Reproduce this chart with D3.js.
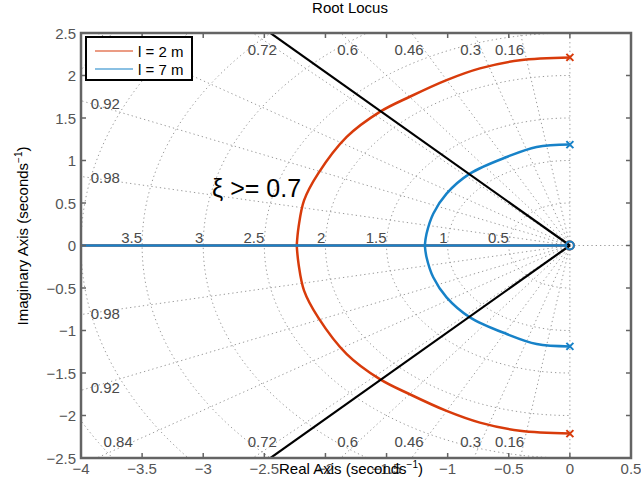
<!DOCTYPE html>
<html>
<head>
<meta charset="utf-8">
<script src="https://cdn.jsdelivr.net/npm/d3@7"></script>
<style>
  html, body { margin: 0; padding: 0; background: #fff; }
  svg { display: block; font-family: "Liberation Sans", Arial, Helvetica, sans-serif; }
</style>
</head>
<body>
<svg id="chart" width="641" height="486"></svg>
<script>
// Root locus branches (upper half; lower half is the complex conjugate)
const redRe  = [0, -0.409, -0.736, -1.009, -1.31, -1.555, -1.826, -2.06, -2.175, -2.22, -2.235];
const redIm  = [2.213, 2.18, 2.084, 1.946, 1.75, 1.572, 1.277, 0.845, 0.53, 0.216, 0];
const blueRe = [0, -0.272, -0.517, -0.818, -1.009, -1.118, -1.173, -1.187];
const blueIm = [1.187, 1.159, 1.041, 0.845, 0.61, 0.374, 0.138, 0];

const seriesNames = ["l = 2 m", "l = 7 m"];
const seriesColors = ["#D83B0B", "#1782C8"];

// s-plane grid
const zetas = [0.16, 0.3, 0.46, 0.6, 0.72, 0.84, 0.92, 0.98];
const wns = [0.5, 1, 1.5, 2, 2.5, 3, 3.5, 4, 4.5, 5];
const wnLabels = [0.5, 1, 1.5, 2, 2.5, 3, 3.5];
const zetaSpec = 0.7;

const xTicks = [-4, -3.5, -3, -2.5, -2, -1.5, -1, -0.5, 0, 0.5];
const yTicks = [-2.5, -2, -1.5, -1, -0.5, 0, 0.5, 1, 1.5, 2, 2.5];

const W = 641, H = 486;
const m = { left: 81, right: 10, top: 33, bottom: 28 };
const svg = d3.select("#chart");

const x = d3.scaleLinear().domain([-4, 0.5]).range([m.left, W - m.right]);
const y = d3.scaleLinear().domain([-2.5, 2.5]).range([H - m.bottom, m.top]);

svg.append("defs").append("clipPath").attr("id", "plotclip")
  .append("rect")
  .attr("x", x(-4)).attr("y", y(2.5))
  .attr("width", x(0.5) - x(-4)).attr("height", y(-2.5) - y(2.5));

const plot = svg.append("g").attr("clip-path", "url(#plotclip)");
const line = d3.line().x(d => x(d[0])).y(d => y(d[1]));
const smooth = d3.line().x(d => x(d[0])).y(d => y(d[1])).curve(d3.curveCatmullRom.alpha(0.5));

const fmt = v => (v < 0 ? "\u2212" : "") + Math.abs(v);

// --- grid: damping rays ---
const grid = plot.append("g")
  .attr("fill", "none").attr("stroke", "#9a9a9a")
  .attr("stroke-width", 1).attr("stroke-dasharray", "1.3,3");
const R = 20;
zetas.forEach(z => {
  const s = Math.sqrt(1 - z * z);
  grid.append("path").attr("d", line([[0, 0], [-z * R, s * R]]));
  grid.append("path").attr("d", line([[0, 0], [-z * R, -s * R]]));
});
grid.append("path").attr("d", line([[0, 0], [0, R]]));
grid.append("path").attr("d", line([[0, 0], [0, -R]]));
grid.append("path").attr("d", line([[0, 0], [0.5, 0]]));

// --- grid: natural frequency semicircles ---
wns.forEach(w => {
  const pts = d3.range(0, 181).map(i => {
    const a = Math.PI / 2 + (i / 180) * Math.PI;
    return [w * Math.cos(a), w * Math.sin(a)];
  });
  grid.append("path").attr("d", line(pts));
});

// grid labels
const gl = plot.append("g").attr("font-size", 15).attr("fill", "#4a4a4a");
wnLabels.forEach(w => {
  gl.append("text").attr("x", x(-w)).attr("y", y(0) - 3)
    .attr("text-anchor", "end").text(w);
});
zetas.forEach(z => {
  const s = Math.sqrt(1 - z * z);
  const t = s / z;
  if (2.5 / t <= 4 * 0.98) {
    const yy = 2.31, xx = -yy / t;
    [1, -1].forEach(sg => {
      gl.append("text").attr("x", x(xx)).attr("y", y(sg * yy))
        .attr("text-anchor", "end").attr("dominant-baseline", "central").text(z);
    });
  } else {
    const xx = -3.92, yy = -xx * t;
    [1, -1].forEach(sg => {
      gl.append("text").attr("x", x(xx)).attr("y", y(sg * yy))
        .attr("text-anchor", "start").attr("dominant-baseline", "central").text(z);
    });
  }
});

// --- root locus branches ---
function drawLocus(re, im, color) {
  const upper = re.map((r, i) => [r, im[i]]);
  const lower = re.map((r, i) => [r, -im[i]]);
  const brk = re[re.length - 1];
  const g = plot.append("g").attr("fill", "none").attr("stroke", color)
    .attr("stroke-width", 2.5).attr("stroke-linejoin", "round");
  g.append("path").attr("d", smooth(upper));
  g.append("path").attr("d", smooth(lower));
  g.append("path").attr("d", line([[brk, 0], [0, 0]]));
  g.append("path").attr("d", line([[brk, 0], [-10, 0]]));
}
drawLocus(redRe, redIm, seriesColors[0]);
drawLocus(blueRe, blueIm, seriesColors[1]);

// damping-ratio requirement lines
const zs = Math.sqrt(1 - zetaSpec * zetaSpec);
const bl = plot.append("g").attr("stroke", "#000").attr("stroke-width", 2.2).attr("fill", "none");
bl.append("path").attr("d", line([[0, 0], [-zetaSpec * R, zs * R]]));
bl.append("path").attr("d", line([[0, 0], [-zetaSpec * R, -zs * R]]));

// pole (x) and zero (o) markers
function markers(re, im, color) {
  const g = plot.append("g").attr("stroke", color).attr("stroke-width", 2).attr("fill", "none");
  [im[0], -im[0]].forEach(v => {
    const cx = x(re[0]), cy = y(v), r = 3.5;
    g.append("path").attr("d", `M${cx - r},${cy - r}L${cx + r},${cy + r}M${cx - r},${cy + r}L${cx + r},${cy - r}`);
  });
  g.append("circle").attr("cx", x(0)).attr("cy", y(0)).attr("r", 4);
}
markers(redRe, redIm, seriesColors[0]);
markers(blueRe, blueIm, seriesColors[1]);

// annotation
svg.append("text").attr("x", 212).attr("y", 197).attr("font-size", 25).attr("fill", "#000")
  .text("\u03BE >= " + zetaSpec);

// --- axes box and ticks ---
const ax = svg.append("g").attr("stroke", "#646464").attr("stroke-width", 1.5);
xTicks.forEach(t => {
  ax.append("line").attr("x1", x(t)).attr("x2", x(t)).attr("y1", y(-2.5)).attr("y2", y(-2.5) - 5);
  ax.append("line").attr("x1", x(t)).attr("x2", x(t)).attr("y1", y(2.5)).attr("y2", y(2.5) + 5);
});
yTicks.forEach(t => {
  ax.append("line").attr("x1", x(-4)).attr("x2", x(-4) + 5).attr("y1", y(t)).attr("y2", y(t));
  ax.append("line").attr("x1", x(0.5)).attr("x2", x(0.5) - 5).attr("y1", y(t)).attr("y2", y(t));
});
svg.append("rect")
  .attr("x", x(-4)).attr("y", y(2.5))
  .attr("width", x(0.5) - x(-4)).attr("height", y(-2.5) - y(2.5))
  .attr("fill", "none").attr("stroke", "#646464").attr("stroke-width", 2.5);

const tl = svg.append("g").attr("font-size", 15).attr("fill", "#555");
xTicks.forEach(t => {
  tl.append("text").attr("x", x(t)).attr("y", 474).attr("text-anchor", "middle").text(fmt(t));
});
yTicks.forEach(t => {
  tl.append("text").attr("x", 76).attr("y", y(t)).attr("text-anchor", "end")
    .attr("dominant-baseline", "central").text(fmt(t));
});

// legend
const lg = svg.append("g");
lg.append("rect").attr("x", 86).attr("y", 37).attr("width", 106).attr("height", 43)
  .attr("fill", "#fff").attr("stroke", "#000").attr("stroke-width", 2);
seriesNames.forEach((n, i) => {
  const ly = 51 + i * 18;
  lg.append("line").attr("x1", 95).attr("x2", 133).attr("y1", ly).attr("y2", ly)
    .attr("stroke", seriesColors[i]).attr("stroke-width", 1.2);
  lg.append("text").attr("x", 138).attr("y", ly).attr("dominant-baseline", "central")
    .attr("font-size", 15).attr("fill", "#000").text(n);
});

// titles
svg.append("text").attr("x", 350).attr("y", 13).attr("text-anchor", "middle")
  .attr("font-size", 15).attr("fill", "#000").text("Root Locus");

const xl = svg.append("text").attr("x", 351).attr("y", 474).attr("text-anchor", "middle")
  .attr("font-size", 15).attr("fill", "#000");
xl.append("tspan").text("Real Axis (seconds");
xl.append("tspan").attr("font-size", 10).attr("dy", -6).text("\u22121");
xl.append("tspan").attr("dy", 6).text(")");

const yl = svg.append("text").attr("transform", "translate(28,236) rotate(-90)")
  .attr("text-anchor", "middle").attr("font-size", 15).attr("fill", "#000");
yl.append("tspan").text("Imaginary Axis (seconds");
yl.append("tspan").attr("font-size", 10).attr("dy", -6).text("\u22121");
yl.append("tspan").attr("dy", 6).text(")");
</script>
</body>
</html>
